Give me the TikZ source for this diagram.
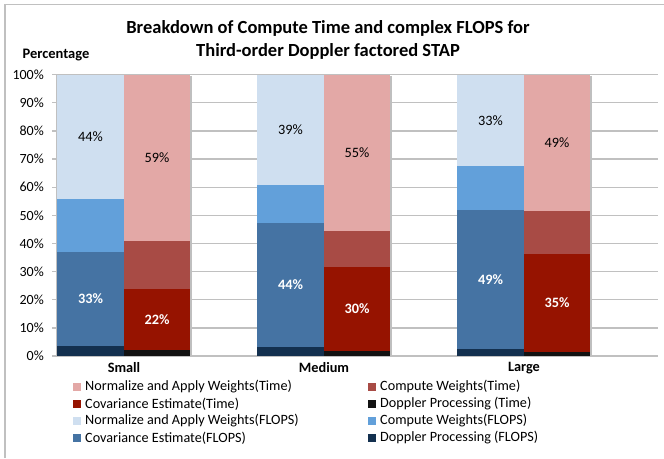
\documentclass[tikz,border=0pt]{standalone}
\usepackage{fontspec}
\setmainfont{Carlito}
\definecolor{normT}{HTML}{E3A8A6}
\definecolor{compT}{HTML}{A84B45}
\definecolor{covT}{HTML}{961300}
\definecolor{dopT}{HTML}{121212}
\definecolor{normF}{HTML}{CFDFF0}
\definecolor{compF}{HTML}{62A0DA}
\definecolor{covF}{HTML}{4573A3}
\definecolor{dopF}{HTML}{13304F}
\definecolor{gridc}{HTML}{C0C0C0}
\tikzset{
  gridline/.style={draw=gridc, line width=1.3pt},
  ticklab/.style={anchor=east, font=\fontsize{14}{16}\selectfont, inner sep=0pt},
  catlab/.style={font=\bfseries\fontsize{14.3}{16}\selectfont, inner sep=0pt},
  darklab/.style={font=\bfseries\fontsize{14.3}{16}\selectfont, text=white, inner sep=0pt},
  lightlab/.style={font=\fontsize{14.3}{16}\selectfont, text=black, inner sep=0pt},
  legtext/.style={anchor=west, font=\fontsize{14.2}{16}\selectfont, inner sep=0pt},
  legbox/.style={minimum width=8pt, minimum height=8pt, inner sep=0pt},
  barshadow/.style={fill=black!25}
}
\begin{document}
\begin{tikzpicture}[x=1pt,y=-1pt]
\useasboundingbox (0,0) rectangle (664,458);
\fill[white] (0,0) rectangle (664,458);
% outer frame (top and left visible)
\draw[draw=gridc, line width=1.5pt] (5,458) -- (5,4.5) -- (664,4.5);
% title
\node[font=\bfseries\fontsize{18.5}{23}\selectfont, align=center, inner sep=0pt] (title) at (328,39.5)
  {Breakdown of Compute Time and complex FLOPS for\\Third-order Doppler factored STAP};
\node[font=\bfseries\fontsize{14.5}{16}\selectfont, inner sep=0pt] (ylab) at (56,55) {Percentage};
% grid lines and ticks
\foreach \i in {0,1,...,10} {
  \pgfmathsetmacro\yy{356-28.13*\i}
  \draw[gridline] (52,\yy) -- (658,\yy);
  \pgfmathtruncatemacro\lab{10*\i}
  \node[ticklab] (t\i) at (44,\yy) {\lab\%};
}
\draw[draw=gridc, line width=1.3pt] (57,75) -- (57,356);
% bars: x / doppler / covariance top / compute top  (cumulative %)
\foreach \x/\a/\b/\c/\la/\lb in {57/3.6/37/55.8/33/44, 257/3.3/47.4/60.8/44/39, 457/2.5/51.9/67.4/49/33} {
  \pgfmathsetmacro\ya{356-2.813*\a}
  \pgfmathsetmacro\yb{356-2.813*\b}
  \pgfmathsetmacro\yc{356-2.813*\c}
  \pgfmathsetmacro\xe{\x+67}
  \fill[normF] (\x,75) rectangle (\xe,\yc);
  \fill[compF] (\x,\yc) rectangle (\xe,\yb);
  \fill[covF] (\x,\yb) rectangle (\xe,\ya);
  \fill[dopF] (\x,\ya) rectangle (\xe,356);
  \node[darklab] (fb\x) at ({\x+33.5},{(\yb+\ya)/2}) {\la\%};
  \node[lightlab] (fa\x) at ({\x+33.5},{(75+\yc)/2}) {\lb\%};
}
\foreach \x/\a/\b/\c/\la/\lb in {124/2.1/23.9/40.9/22/59, 324/1.8/31.8/44.6/30/55, 524/1.4/36.3/51.5/35/49} {
  \pgfmathsetmacro\ya{356-2.813*\a}
  \pgfmathsetmacro\yb{356-2.813*\b}
  \pgfmathsetmacro\yc{356-2.813*\c}
  \pgfmathsetmacro\xe{\x+66}
  \fill[barshadow] (\xe,76) rectangle ({\xe+2},356);
  \fill[normT] (\x,75) rectangle (\xe,\yc);
  \fill[compT] (\x,\yc) rectangle (\xe,\yb);
  \fill[covT] (\x,\yb) rectangle (\xe,\ya);
  \fill[dopT] (\x,\ya) rectangle (\xe,356);
  \node[darklab] (tb\x) at ({\x+33},{(\yb+\ya)/2}) {\la\%};
  \node[lightlab] (ta\x) at ({\x+33},{(75+\yc)/2}) {\lb\%};
}
% category labels
\node[catlab] (small) at (124,368) {Small};
\node[catlab] (medium) at (324,368) {Medium};
\node[catlab] (large) at (524,368) {Large};
% legend
\foreach \col/\txt [count=\k] in {
  normT/Normalize and Apply Weights(Time),
  covT/Covariance Estimate(Time),
  normF/Normalize and Apply Weights(FLOPS),
  covF/Covariance Estimate(FLOPS)} {
  \pgfmathsetmacro\yy{387+17*(\k-1)}
  \node[legbox, fill=\col] (lb\k) at (77,\yy) {};
  \node[legtext] (lt\k) at (85,\yy) {\txt};
}
\foreach \col/\txt [count=\k] in {
  compT/Compute Weights(Time),
  dopT/Doppler Processing (Time),
  compF/Compute Weights(FLOPS),
  dopF/Doppler Processing (FLOPS)} {
  \pgfmathsetmacro\yy{387+17*(\k-1)}
  \node[legbox, fill=\col] (rb\k) at (372,\yy) {};
  \node[legtext] (rt\k) at (380,\yy) {\txt};
}
\end{tikzpicture}
\end{document}
